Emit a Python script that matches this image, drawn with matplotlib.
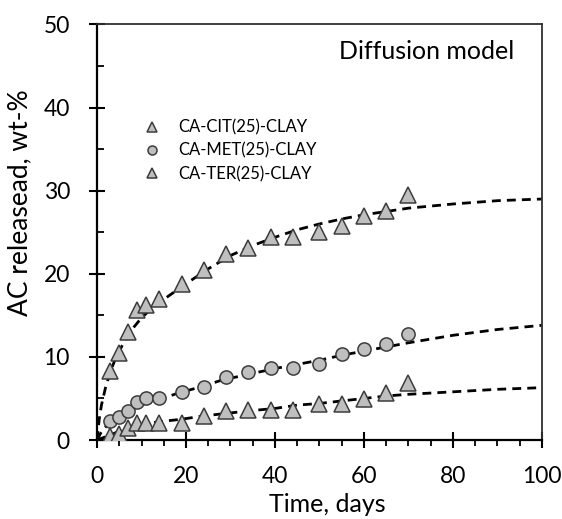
import numpy as np
import matplotlib
matplotlib.use('Agg')
import matplotlib.pyplot as plt
from matplotlib.ticker import MultipleLocator

plt.rcParams['font.family'] = ['Lato', 'DejaVu Sans']

# measured release (wt-%) vs time (days)
days = [3, 5, 7, 9, 11, 14, 19, 24, 29, 34, 39, 44, 50, 55, 60, 65, 70]
cit = [8.3, 10.5, 13.0, 15.6, 16.3, 17.0, 18.8, 20.5, 22.4, 23.1, 24.4, 24.4,
       25.0, 25.7, 26.9, 27.6, 29.5]
met = [2.3, 2.8, 3.5, 4.6, 5.1, 5.1, 5.8, 6.4, 7.6, 8.2, 8.7, 8.7,
       9.2, 10.4, 10.9, 11.5, 12.7]
ter = [0.5, 0.7, 1.5, 2.1, 2.1, 2.1, 2.1, 2.9, 3.5, 3.6, 3.6, 3.6,
       4.3, 4.3, 4.9, 5.6, 6.8]

# diffusion model curves
cit_fit_t = [0, 0.5, 1, 2, 3, 4, 5, 6, 7, 8, 10, 12, 14, 16, 20, 25, 30, 35,
             40, 45, 50, 55, 60, 65, 70, 80, 90, 100]
cit_fit = [0, 2.5, 4.2, 6.5, 8.2, 9.6, 10.7, 11.7, 12.6, 13.4, 14.7, 15.7,
           16.5, 17.3, 18.8, 20.6, 22.2, 23.4, 24.4, 25.3, 26.0, 26.6, 27.1,
           27.5, 27.9, 28.4, 28.8, 29.0]
met_fit_t = [0, 1, 2, 3, 4, 6, 9, 13, 18, 24, 28, 34, 40, 45, 50, 55, 60, 65,
             70, 80, 90, 100]
met_fit = [0, 1.0, 1.6, 2.1, 2.6, 3.3, 4.1, 4.7, 5.6, 6.5, 7.2, 7.9, 8.6,
           9.1, 9.6, 10.2, 10.7, 11.2, 11.7, 12.6, 13.3, 13.8]
ter_fit_t = [0, 3, 6, 9, 14, 19, 24, 29, 34, 40, 45, 50, 55, 60, 65, 70, 80,
             90, 100]
ter_fit = [0, 0.6, 1.3, 1.8, 2.2, 2.5, 2.9, 3.2, 3.5, 3.8, 4.2, 4.4, 4.7,
           5.0, 5.3, 5.5, 5.8, 6.1, 6.3]

face = '#bfbfbf'
edge = '#3c3c3c'

fig = plt.figure(figsize=(5.62, 5.19), dpi=100)
ax = fig.add_axes([0.1726, 0.1522, 0.7918, 0.8006])

dash = dict(color='black', lw=2.0, ls=(0, (3.2, 2.2)), zorder=2)
ax.plot(cit_fit_t, cit_fit, **dash)
ax.plot(met_fit_t, met_fit, **dash)
ax.plot(ter_fit_t, ter_fit, **dash)

mk = dict(ls='none', mfc=face, mec=edge, mew=1.1, zorder=3)
ax.plot(days, cit, marker='^', ms=11, **mk)
ax.plot(days, met, marker='o', ms=9.5, **mk)
ax.plot(days, ter, marker='^', ms=11, **mk)

# legend (small markers)
h1, = ax.plot([], [], marker='^', ms=7, **mk)
h2, = ax.plot([], [], marker='o', ms=6.5, **mk)
h3, = ax.plot([], [], marker='^', ms=7, **mk)
ax.legend([h1, h2, h3], ['CA-CIT(25)-CLAY', 'CA-MET(25)-CLAY', 'CA-TER(25)-CLAY'],
          loc='upper left', bbox_to_anchor=(0.09, 0.787), frameon=False,
          fontsize=12, handlelength=1.0, handletextpad=1.05, labelspacing=0.42,
          borderaxespad=0)

ax.text(0.74, 0.935, 'Diffusion model', transform=ax.transAxes,
        ha='center', va='center', fontsize=18)

ax.set_xlim(0, 100)
ax.set_ylim(0, 50)
ax.xaxis.set_major_locator(MultipleLocator(20))
ax.xaxis.set_minor_locator(MultipleLocator(5))
ax.yaxis.set_major_locator(MultipleLocator(10))
ax.yaxis.set_minor_locator(MultipleLocator(5))

ax.tick_params(axis='both', which='major', direction='inout', length=11,
               width=1.5, labelsize=16.5)
ax.tick_params(axis='x', which='major', pad=13)
ax.tick_params(axis='y', which='major', pad=14)
ax.tick_params(axis='x', which='minor', direction='out', length=4.5, width=1.3)
ax.tick_params(axis='y', which='minor', direction='in', length=5, width=1.3)

for s in ['left', 'bottom']:
    ax.spines[s].set_linewidth(1.6)
for s in ['top', 'right']:
    ax.spines[s].set_linewidth(1.3)
    ax.spines[s].set_color('#303030')

ax.set_xlabel('Time, days', fontsize=18)
ax.set_ylabel('AC releasead, wt-%', fontsize=19)
ax.xaxis.set_label_coords(0.517, -0.127)
ax.yaxis.set_label_coords(-0.145, 0.57)

fig.savefig('out.png', dpi=100)
